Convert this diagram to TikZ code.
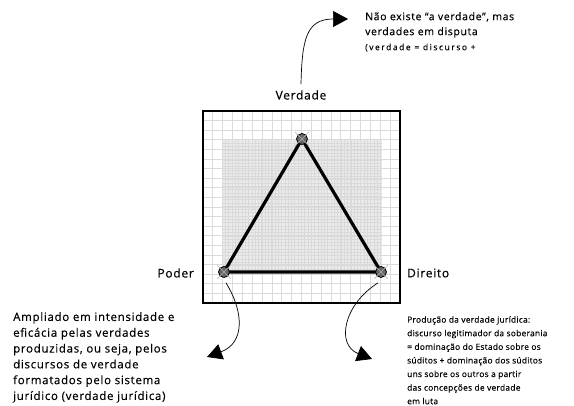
\documentclass[tikz,border=0pt]{standalone}
\usepackage{fontspec}
\setmainfont{Open Sans}
\newfontfamily\notafont[LetterSpace=6, FakeBold=0.3]{Open Sans}
\newfontfamily\largafont[LetterSpace=18, FakeBold=0.3]{Open Sans}
\usetikzlibrary{arrows.meta}

\tikzset{
	vertice/.style={circle, draw=black, line width=0.8pt, fill=black!60, minimum size=11pt, inner sep=0pt},
	rotulo/.style={font=\notafont\fontsize{12}{14}\selectfont, inner sep=0pt},
	nota/.style={align=left, anchor=north west, inner sep=0pt},
	seta/.style={-{Triangle[length=15pt,width=16pt]}, line width=0.7pt},
	lado/.style={line width=3.2pt, line join=round},
	grade/.style={gray!28, line width=0.9pt},
	gradefina/.style={gray!30, line width=0.3pt},
}

\begin{document}
\begin{tikzpicture}[x=1pt, y=-1pt]
	\useasboundingbox (0,0) rectangle (574,406);
	% quadro com grade
	\fill[gray!16] (222,140) rectangle (382,273);
	\foreach \k in {1,...,48}
		\draw[gradefina] (222+\k*3.3,140) -- (222+\k*3.3,273);
	\foreach \k in {1,...,40}
		\draw[gradefina] (222,140+\k*3.3) -- (382,140+\k*3.3);
	\foreach \k in {1,...,19}
		\draw[grade] (203+\k*9.85,111) -- (203+\k*9.85,303)
			(203,111+\k*9.6) -- (400,111+\k*9.6);
	\draw[line width=2pt] (203,111) rectangle (400,303);
	% triangulo
	\draw[lado] (302,139) -- (224,272) -- (381,272) -- cycle;
	\node (V) at (302,139) [vertice] {};
	\node (P) at (224,272) [vertice] {};
	\node (D) at (381,272) [vertice] {};
	\foreach \v in {V,P,D}
		\draw[gray!60, line width=0.6pt] ([shift={(-7pt,-7pt)}]\v.center) -- ([shift={(7pt,7pt)}]\v.center)
			([shift={(-7pt,7pt)}]\v.center) -- ([shift={(7pt,-7pt)}]\v.center);
	% rotulos
	\node (lV) at (301,95) [rotulo] {Verdade};
	\node (lP) at (194,273) [rotulo, anchor=east] {Poder};
	\node (lD) at (407,273) [rotulo, anchor=west] {Direito};
	% notas
	\node (nV) at (365,12) [nota, font=\notafont\fontsize{10.5}{15}\selectfont] {Não existe “a verdade”, mas\\verdades em disputa\\{\largafont\fontsize{8.5}{10}\selectfont(verdade = discurso +}};
	\node (nP) at (13,312) [nota, font=\notafont\fontsize{11.5}{15.8}\selectfont] {Ampliado em intensidade e\\eficácia pelas verdades\\produzidas, ou seja, pelos\\discursos de verdade\\formatados pelo sistema\\jurídico (verdade jurídica)};
	\node (nD) at (407,316) [nota, font=\fontsize{8.4}{13.6}\selectfont\addfontfeatures{LetterSpace=3, FakeBold=0.2}] {Produção da verdade jurídica:\\discurso legitimador da soberania\\= dominação do Estado sobre os\\súditos + dominação dos súditos\\uns sobre os outros a partir\\das concepções de verdade\\em luta};
	% setas
	\coordinate (pV) at (348,19);
	\coordinate (pP) at (207,357);
	\coordinate (pD) at (372,359);
	\draw[seta] ([yshift=6pt]lV.north) .. controls (302,40) and (306,19) .. (pV);
	\draw[seta] ([shift={(2pt,-5pt)}]P.south) .. controls (244,312) and (245,343) .. (pP);
	\draw[seta] ([shift={(-3pt,-5pt)}]D.south) .. controls (343,305) and (336,345) .. (pD);
\end{tikzpicture}
\end{document}
